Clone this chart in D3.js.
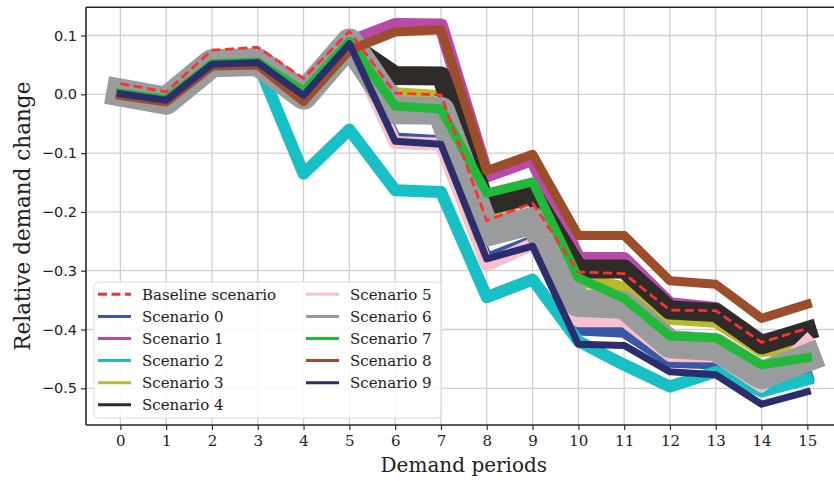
<!DOCTYPE html>
<html>
<head>
<meta charset="utf-8">
<script src="https://cdn.jsdelivr.net/npm/d3@7"></script>
<style>
  html, body { margin: 0; padding: 0; background: #fff; }
  svg { display: block; }
</style>
</head>
<body>
<svg id="chart" width="834" height="481"></svg>
<script>
// Demand periods on the x axis
const periods = [0, 1, 2, 3, 4, 5, 6, 7, 8, 9, 10, 11, 12, 13, 14, 15];
const yTicks = [0.1, 0.0, -0.1, -0.2, -0.3, -0.4, -0.5];

// Relative demand change per period
const baseline  = [0.018, 0.004, 0.075, 0.080, 0.027, 0.107, 0.002, -0.001, -0.215, -0.185, -0.302, -0.305, -0.367, -0.368, -0.422, -0.398];
const scenario0 = [0.000, -0.010, 0.050, 0.053, 0.000, 0.086, -0.075, -0.080, -0.280, -0.250, -0.400, -0.404, -0.455, -0.458, -0.505, -0.480];
const scenario1 = [0.000, -0.010, 0.050, 0.053, 0.000, 0.088, 0.118, 0.117, -0.138, -0.110, -0.280, -0.280, -0.357, -0.365, -0.420, -0.400];
const scenario2 = [0.000, -0.010, 0.050, 0.053, -0.135, -0.060, -0.163, -0.166, -0.345, -0.315, -0.420, -0.460, -0.497, -0.472, -0.505, -0.485];
const scenario3 = [0.000, -0.010, 0.050, 0.053, 0.000, 0.085, 0.000, -0.005, -0.200, -0.175, -0.315, -0.330, -0.380, -0.385, -0.435, -0.430];
const scenario4 = [0.000, -0.010, 0.050, 0.053, 0.000, 0.085, 0.032, 0.031, -0.190, -0.170, -0.297, -0.297, -0.367, -0.371, -0.426, -0.402];
const scenario5 = [0.000, -0.010, 0.050, 0.053, 0.000, 0.085, -0.082, -0.085, -0.290, -0.255, -0.385, -0.385, -0.444, -0.445, -0.496, -0.420];
const scenario6 = [0.003, -0.011, 0.053, 0.055, -0.002, 0.088, -0.027, -0.028, -0.235, -0.215, -0.355, -0.358, -0.425, -0.430, -0.478, -0.448];
const scenario7 = [0.002, -0.008, 0.052, 0.055, 0.005, 0.090, -0.020, -0.025, -0.168, -0.149, -0.312, -0.347, -0.411, -0.414, -0.460, -0.448];
const scenario8 = [-0.002, -0.013, 0.048, 0.050, -0.012, 0.075, 0.106, 0.110, -0.130, -0.102, -0.240, -0.240, -0.317, -0.323, -0.381, -0.357];
const scenario9 = [0.001, -0.010, 0.051, 0.054, -0.002, 0.086, -0.080, -0.085, -0.280, -0.258, -0.425, -0.427, -0.472, -0.477, -0.527, -0.506];

const scenarioNames  = ["Scenario 0", "Scenario 1", "Scenario 2", "Scenario 3", "Scenario 4",
                        "Scenario 5", "Scenario 6", "Scenario 7", "Scenario 8", "Scenario 9"];
const scenarioValues = [scenario0, scenario1, scenario2, scenario3, scenario4,
                        scenario5, scenario6, scenario7, scenario8, scenario9];
const scenarioColors = ["#3a58a8", "#b84ba8", "#16c0c4", "#b8ba2c", "#2e2b29",
                        "#f8c0cc", "#9a9b9d", "#22b83a", "#9c4e2a", "#2c2d6c"];
const scenarioWidths = [12, 14, 12, 14, 19, 13, 28, 9, 9, 7];

const svg = d3.select("#chart");
const plot = { left: 86, right: 841.7, top: 7.3, bottom: 425 };

const x = d3.scaleLinear().domain([-0.75, 15.75]).range([plot.left, plot.right]);
const y = d3.scaleLinear().domain([-0.5624, 0.148]).range([plot.bottom, plot.top]);

// grid
const grid = svg.append("g").attr("stroke", "#cfcfcf").attr("stroke-width", 1.3);
grid.selectAll("line.v").data(periods).join("line")
  .attr("x1", d => x(d)).attr("x2", d => x(d))
  .attr("y1", plot.top).attr("y2", plot.bottom);
grid.selectAll("line.h").data(yTicks).join("line")
  .attr("x1", plot.left).attr("x2", plot.right)
  .attr("y1", d => y(d)).attr("y2", d => y(d));

svg.append("defs").append("clipPath").attr("id", "plotClip")
  .append("rect")
  .attr("x", plot.left).attr("y", plot.top)
  .attr("width", plot.right - plot.left).attr("height", plot.bottom - plot.top);

const line = d3.line().x((d, i) => x(periods[i])).y(d => y(d));

const lines = svg.append("g").attr("clip-path", "url(#plotClip)");
scenarioValues.forEach((vals, k) => {
  lines.append("path")
    .datum(vals)
    .attr("d", line)
    .attr("fill", "none")
    .attr("stroke", scenarioColors[k])
    .attr("stroke-width", scenarioWidths[k])
    .attr("stroke-linejoin", "round")
    .attr("stroke-linecap", "square");
});
lines.append("path")
  .datum(baseline)
  .attr("d", line)
  .attr("fill", "none")
  .attr("stroke", "#ff3030")
  .attr("stroke-width", 2.8)
  .attr("stroke-dasharray", "9,4.5")
  .attr("stroke-linejoin", "round");

// axes
const xAxis = d3.axisBottom(x).tickValues(periods).tickSize(5).tickPadding(5).tickFormat(d3.format("d"));
const gx = svg.append("g").attr("transform", `translate(0,${plot.bottom})`).call(xAxis);
gx.select(".domain").remove();
gx.selectAll(".tick line").attr("stroke", "#333").attr("stroke-width", 1.2);
gx.selectAll(".tick text").attr("font-family", "DejaVu Serif").attr("font-size", 15).attr("fill", "#222");

const yAxis = d3.axisLeft(y).tickValues(yTicks).tickSize(5).tickPadding(4)
  .tickFormat(d => d3.format(".1f")(d).replace("-", "\u2212"));
const gy = svg.append("g").attr("transform", `translate(${plot.left},0)`).call(yAxis);
gy.select(".domain").remove();
gy.selectAll(".tick line").attr("stroke", "#333").attr("stroke-width", 1.2);
gy.selectAll(".tick text").attr("font-family", "DejaVu Sans").attr("font-size", 14.5).attr("fill", "#222");

// spines
const spines = svg.append("g").attr("stroke", "#262626").attr("stroke-width", 1.6);
spines.append("line").attr("x1", plot.left).attr("x2", plot.right).attr("y1", plot.top).attr("y2", plot.top);
spines.append("line").attr("x1", plot.left).attr("x2", plot.right).attr("y1", plot.bottom).attr("y2", plot.bottom);
spines.append("line").attr("x1", plot.left).attr("x2", plot.left).attr("y1", plot.top).attr("y2", plot.bottom);
spines.append("line").attr("x1", plot.right).attr("x2", plot.right).attr("y1", plot.top).attr("y2", plot.bottom);

// axis titles
svg.append("text")
  .attr("x", (plot.left + plot.right) / 2).attr("y", 472)
  .attr("text-anchor", "middle")
  .attr("font-family", "DejaVu Serif").attr("font-size", 20).attr("fill", "#222")
  .text("Demand periods");
svg.append("text")
  .attr("transform", `translate(30,${(plot.top + plot.bottom) / 2}) rotate(-90)`)
  .attr("text-anchor", "middle")
  .attr("font-family", "DejaVu Serif").attr("font-size", 21.5).attr("fill", "#222")
  .text("Relative demand change");

// legend
const legendItems = [{ name: "Baseline scenario", color: "#ff3030", dashed: true }]
  .concat(scenarioNames.map((n, k) => ({ name: n, color: scenarioColors[k], dashed: false })));
const legend = svg.append("g");
legend.append("rect")
  .attr("x", 94).attr("y", 282).attr("width", 347).attr("height", 136).attr("rx", 4)
  .attr("fill", "#fff").attr("fill-opacity", 0.85)
  .attr("stroke", "#dcdcdc").attr("stroke-width", 1);
const colX = [98, 306];
legendItems.forEach((it, i) => {
  const col = i < 6 ? 0 : 1;
  const row = i < 6 ? i : i - 6;
  const cy = 294.3 + row * 22.1;
  const g = legend.append("g");
  g.append("line")
    .attr("x1", colX[col]).attr("x2", colX[col] + 33)
    .attr("y1", cy).attr("y2", cy)
    .attr("stroke", it.color).attr("stroke-width", 3)
    .attr("stroke-dasharray", it.dashed ? "9,4.5" : null);
  g.append("text")
    .attr("x", colX[col] + 44).attr("y", cy).attr("dy", "0.36em")
    .attr("font-family", "DejaVu Serif").attr("font-size", 15).attr("fill", "#222")
    .text(it.name);
});
</script>
</body>
</html>
